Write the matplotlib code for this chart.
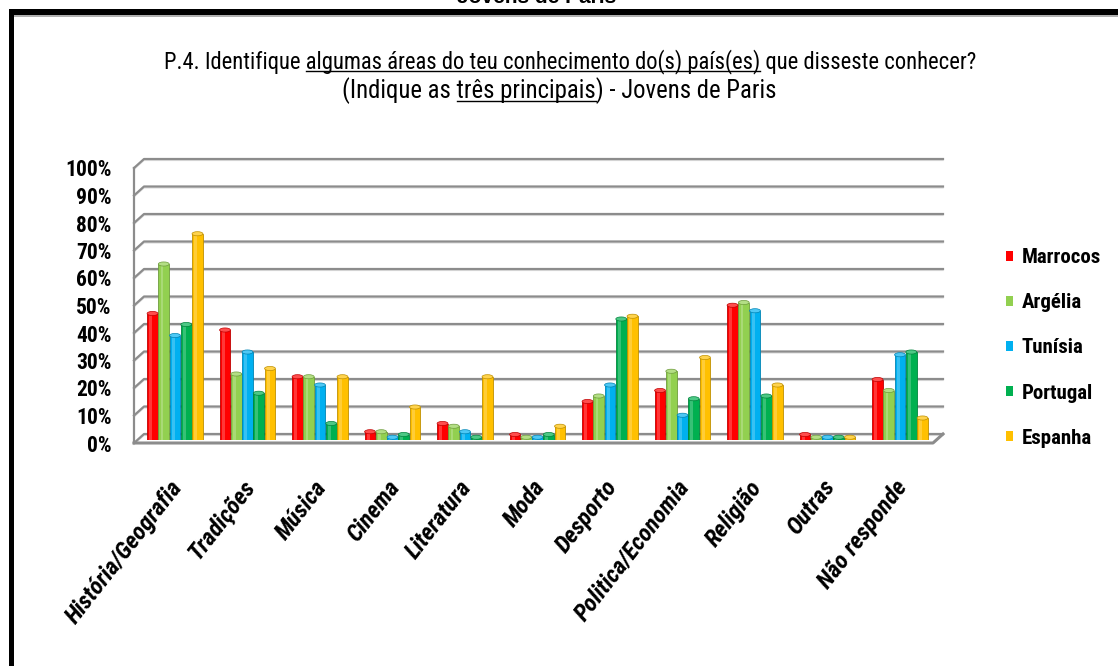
import numpy as np
import matplotlib
matplotlib.use('Agg')
import matplotlib.pyplot as plt
from matplotlib import font_manager
from matplotlib.patches import Patch, Rectangle, Ellipse
from matplotlib.lines import Line2D
from matplotlib.transforms import ScaledTranslation, blended_transform_factory
import matplotlib.colors as mcolors

categories = ['História/Geografia', 'Tradições', 'Música', 'Cinema', 'Literatura', 'Moda',
              'Desporto', 'Politica/Economia', 'Religião', 'Outras', 'Não responde']
series = ['Marrocos', 'Argélia', 'Tunísia', 'Portugal', 'Espanha']
marrocos = [46, 40, 23, 3, 6, 2, 14, 18, 49, 2, 22]
argelia = [64, 24, 23, 3, 5, 1, 16, 25, 50, 1, 18]
tunisia = [38, 32, 20, 1, 3, 1, 20, 9, 47, 1, 31]
portugal = [42, 17, 6, 2, 1, 2, 44, 15, 16, 1, 32]
espanha = [75, 26, 23, 12, 23, 5, 45, 30, 20, 1, 8]
yticks = list(range(0, 101, 10))
colors = ['#FF0000', '#92D050', '#00B0F0', '#00B050', '#FFC000']

names = {f.name for f in font_manager.fontManager.ttflist}
narrow = 'DejaVu Sans'
for cand in ['Liberation Sans Narrow', 'Roboto Condensed', 'Open Sans Condensed']:
    if cand in names:
        narrow = cand
        break
plain = 'Liberation Sans' if 'Liberation Sans' in names else 'DejaVu Sans'
NF = dict(family=narrow, stretch='condensed')

W, H = 1118, 666
fig = plt.figure(figsize=(W / 100, H / 100), dpi=100)
fig.patch.set_facecolor('white')

# axes: front-left wall at x=134, back end of grid at x=943, bar base at y=440, 100% at y=165
ax = fig.add_axes([134 / W, (H - 440) / H, (943 - 134) / W, (440 - 165) / H])
ax.set_xlim((134 - 175) / 72.5, (943 - 175) / 72.5)
ax.set_ylim(0, 100)
for s in ax.spines.values():
    s.set_visible(False)
ax.set_facecolor('none')

def off(dx, dy):
    return ScaledTranslation(dx / 100, dy / 100, fig.dpi_scale_trans)

# pseudo 3D back wall grid
unit = (440 - 165) / 100.0
back = 6 / unit
front = -3 / unit
xb = 10 / 809
bt = blended_transform_factory(ax.transAxes, ax.transData)
grid_c = '#8c8c8c'
for v in yticks:
    ax.add_line(Line2D([0, xb, 1], [v + front, v + back, v + back], transform=bt,
                       color=grid_c, lw=1.6, clip_on=False, zorder=1))
    ax.add_line(Line2D([0, xb, 1], [v + front - 0.5, v + back - 0.5, v + back - 0.5], transform=bt,
                       color='#dcdcdc', lw=1.0, clip_on=False, zorder=0.9))
# left wall edge and floor front
ax.add_line(Line2D([0, 0], [front, 100 + front], transform=bt, color=grid_c, lw=1.6,
                   clip_on=False, zorder=1))
xf = (933 - 134) / 809
ax.add_line(Line2D([0, xf, 1], [front, front, back], transform=bt, color='#8c8c8c', lw=2.2,
                   clip_on=False, zorder=5))

# bars
x = np.arange(len(categories))
data = [marrocos, argelia, tunisia, portugal, espanha]
bw = 0.15
step = 0.155
for j, (vals, c) in enumerate(zip(data, colors)):
    xs = x + (j - 2) * step
    dark = tuple(np.array(mcolors.to_rgb(c)) * 0.75)
    light = tuple(1 - (1 - np.array(mcolors.to_rgb(c))) * 0.7)
    ax.bar(xs, vals, width=bw, color=c, edgecolor=dark, linewidth=0.6, zorder=3)
    ax.bar(xs - 0.025, vals, width=0.04, color='white', alpha=0.22, linewidth=0, zorder=3.5)
    for xi, v in zip(xs, vals):
        ax.add_patch(Ellipse((xi, v), width=bw, height=1.5, facecolor=light, edgecolor=dark,
                             linewidth=0.5, zorder=4))

# y ticks
ax.set_yticks(yticks)
ax.set_yticklabels([f'{v}%' for v in yticks], fontweight='bold', fontsize=15.5, **NF)
ax.tick_params(axis='y', length=0, pad=16)
for lbl in ax.get_yticklabels():
    lbl.set_transform(lbl.get_transform() + off(0, -3))

# x ticks
ax.set_xticks(x)
ax.set_xticklabels(categories, rotation=52, ha='right', va='top', rotation_mode='anchor',
                   fontweight='bold', fontstyle='italic', fontsize=17.5, **NF)
ax.tick_params(axis='x', length=0, pad=0)
for lbl in ax.get_xticklabels():
    lbl.set_transform(lbl.get_transform() + off(-6, -36))

# legend
handles = [Patch(facecolor=c, edgecolor='none') for c in colors]
fig.legend(handles, series, loc='center left', bbox_to_anchor=(1006 / W, 1 - 348 / H),
           frameon=False, prop=dict(weight='bold', size=15, **NF),
           handlelength=0.35, handleheight=0.35, handletextpad=0.4, labelspacing=1.25,
           borderpad=0, borderaxespad=0)

# title with underlined parts
r = fig.canvas.get_renderer()

def width(s, fs):
    t = fig.text(0, 0, s, fontsize=fs, **NF)
    w = t.get_window_extent(r).width
    t.remove()
    return w

def title_line(parts, x0, x1, y_base):
    full = ''.join(p for p, u in parts)
    fs = 16 * (x1 - x0) / width(full, 16)
    fig.text(x0 / W, 1 - y_base / H, full, fontsize=fs, ha='left', va='baseline', **NF)
    pre = ''
    for p, u in parts:
        if u:
            a = x0 + (width(pre + 'I', fs) - width('I', fs) if pre else 0)
            b = x0 + width(pre + p, fs)
            fig.add_artist(Line2D([a / W, b / W], [1 - (y_base + 3) / H] * 2, color='black', lw=1))
        pre += p

title_line([('P.4. Identifique ', False),
            ('algumas áreas do teu conhecimento do(s) país(es)', True),
            (' que disseste conhecer?', False)], 164, 977, 68)
title_line([('(Indique as ', False), ('três principais', True), (') - Jovens de Paris', False)],
           342, 777, 98)

# cut-off heading above frame
fig.text(537 / W, 1 - 3 / H, 'Jovens de Paris', family=plain, fontweight='bold', fontsize=15,
         ha='center', va='baseline')

# black frame
fig.add_artist(Rectangle((9 / W, 1 - 15 / H), (W - 9) / W, 6 / H, transform=fig.transFigure,
                         facecolor='black', edgecolor='none'))
fig.add_artist(Rectangle((14 / W, 1 - 17 / H), (W - 14) / W, 2 / H, transform=fig.transFigure,
                         facecolor='#b0b0b0', edgecolor='none'))
fig.add_artist(Rectangle((9 / W, 0), 5 / W, 1 - 9 / H, transform=fig.transFigure,
                         facecolor='black', edgecolor='none'))

fig.savefig('out.png', dpi=100)
